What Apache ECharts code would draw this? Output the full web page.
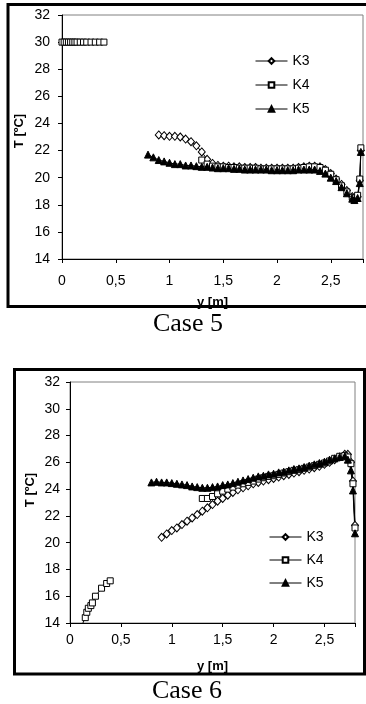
<!DOCTYPE html>
<html>
<head>
<meta charset="utf-8">
<script src="https://cdn.jsdelivr.net/npm/echarts@6/dist/echarts.min.js"></script>
<style>
  html, body { margin: 0; padding: 0; background: #fff; }
  #chart { width: 366px; height: 704px; }
</style>
</head>
<body>
<div id="chart"></div>
<script>
// probe positions y [m] shared by the middle part of all curves
var gridPos = [0.80, 0.85, 0.90, 0.95, 1.00, 1.05, 1.10, 1.15, 1.20, 1.25, 1.30, 1.35, 1.40, 1.45, 1.50,
  1.55, 1.60, 1.65, 1.70, 1.75, 1.80, 1.85, 1.90, 1.95, 2.00, 2.05, 2.10, 2.15, 2.20, 2.25,
  2.30, 2.35, 2.40, 2.45, 2.50, 2.55, 2.60, 2.65, 2.70];

// Case 5
var c5Tail = [2.72, 2.75, 2.77, 2.78];
var c5K3 = [null, null, 23.15, 23.1, 23.05, 23.05, 23.0, 22.85, 22.65, 22.35, 21.9, 21.35, 21.05, 20.9, 20.85,
  20.85, 20.8, 20.8, 20.75, 20.75, 20.75, 20.7, 20.7, 20.7, 20.7, 20.7, 20.7, 20.7, 20.75, 20.8,
  20.85, 20.85, 20.8, 20.6, 20.3, 19.9, 19.5, 19.05, 18.6];
var c5K3T = [18.45, 18.6, 19.8, 22.0];
var c5K4 = [null, null, null, null, null, null, null, null, null, null, 21.3, 21.0, 20.85, 20.8, 20.8,
  20.75, 20.75, 20.7, 20.7, 20.7, 20.7, 20.65, 20.65, 20.65, 20.65, 20.65, 20.65, 20.65, 20.7, 20.75,
  20.8, 20.8, 20.75, 20.55, 20.25, 19.85, 19.4, 18.95, 18.55];
var c5K4T = [18.5, 18.7, 19.9, 22.2];
var c5K4LowPos = [0.00, 0.02, 0.04, 0.06, 0.08, 0.10, 0.12, 0.14, 0.17, 0.20, 0.23, 0.27, 0.31, 0.35, 0.39];
var c5K4Low = [30.0, 30.0, 30.0, 30.0, 30.0, 30.0, 30.0, 30.0, 30.0, 30.0, 30.0, 30.0, 30.0, 30.0, 30.0];
var c5K5 = [21.7, 21.5, 21.3, 21.2, 21.1, 21.0, 21.0, 20.9, 20.9, 20.85, 20.8, 20.8, 20.75, 20.7, 20.7,
  20.7, 20.65, 20.65, 20.6, 20.6, 20.6, 20.6, 20.6, 20.55, 20.55, 20.55, 20.55, 20.55, 20.6, 20.6,
  20.6, 20.6, 20.5, 20.3, 20.0, 19.75, 19.3, 18.85, 18.45];
var c5K5T = [18.35, 18.5, 19.6, 21.9];

// Case 6
var c6Tail = [2.73, 2.76, 2.78, 2.80];
var c6K3 = [null, null, 20.4, 20.65, 20.9, 21.1, 21.35, 21.6, 21.85, 22.1, 22.35, 22.6, 22.85, 23.1, 23.3,
  23.55, 23.75, 23.95, 24.1, 24.25, 24.4, 24.5, 24.6, 24.7, 24.8, 24.9, 25.0, 25.1, 25.2, 25.3,
  25.4, 25.5, 25.6, 25.7, 25.85, 26.0, 26.2, 26.4, 26.6];
var c6K3T = [26.6, 26.0, 24.6, 21.3];
var c6K4 = [null, null, null, null, null, null, null, null, null, null, 23.3, 23.3, 23.45, 23.65, 23.85,
  24.0, 24.15, 24.3, 24.4, 24.5, 24.6, 24.75, 24.85, 24.95, 25.0, 25.1, 25.2, 25.3, 25.4, 25.45,
  25.55, 25.65, 25.75, 25.85, 25.95, 26.1, 26.3, 26.45, 26.5];
var c6K4T = [26.4, 25.9, 24.4, 21.1];
var c6K4LowPos = [0.11, 0.15, 0.165, 0.18, 0.205, 0.22, 0.25, 0.31, 0.36, 0.395];
var c6K4Low = [13.7, 14.4, 14.8, 15.1, 15.3, 15.5, 16.0, 16.6, 16.95, 17.15];
var c6K5 = [24.5, 24.55, 24.5, 24.5, 24.45, 24.4, 24.35, 24.3, 24.2, 24.15, 24.1, 24.1, 24.15, 24.2, 24.3,
  24.35, 24.45, 24.55, 24.65, 24.75, 24.85, 24.95, 25.0, 25.1, 25.15, 25.25, 25.3, 25.4, 25.5, 25.55,
  25.65, 25.75, 25.85, 25.95, 26.05, 26.2, 26.3, 26.4, 26.45];
var c6K5T = [26.2, 25.4, 23.9, 20.7];

var xTicks = [0, 0.5, 1, 1.5, 2, 2.5];
var yMin = 14, yMax = 32, yStep = 2;

function pairs(xs, vs) {
  var out = [];
  for (var i = 0; i < xs.length; i++) {
    if (vs[i] != null) out.push([xs[i], vs[i]]);
  }
  return out;
}

var font = '"Liberation Sans", Arial, sans-serif';
var styles = {
  K3: { symbol: 'diamond', symbolSize: [7, 8], itemStyle: { color: '#fff', borderColor: '#000', borderWidth: 1 } },
  K4: { symbol: 'rect', symbolSize: 6, itemStyle: { color: '#fff', borderColor: '#000', borderWidth: 1 } },
  K5: { symbol: 'triangle', symbolSize: 7, itemStyle: { color: '#000', borderColor: '#000', borderWidth: 1 } }
};

function line(name, idx, data) {
  var s = styles[name];
  return {
    name: name, type: 'line', xAxisIndex: idx, yAxisIndex: idx, data: data,
    symbol: s.symbol, symbolSize: s.symbolSize, itemStyle: s.itemStyle,
    lineStyle: { color: '#000', width: 1 }, clip: true, silent: true
  };
}

function xAxis(idx, labelMargin) {
  return {
    type: 'value', gridIndex: idx, min: 0, max: 2.8, interval: 0.5,
    name: 'y [m]', nameLocation: 'middle', nameGap: 37,
    nameTextStyle: { fontFamily: font, fontWeight: 'bold', fontSize: 13, color: '#000' },
    axisLine: { show: true, onZero: false, lineStyle: { color: '#000', width: 1 } },
    axisTick: { show: true, length: 4, lineStyle: { color: '#000' } },
    splitLine: { show: false },
    axisLabel: {
      margin: labelMargin, fontFamily: font, fontSize: 14, color: '#000',
      formatter: function (v) {
        for (var i = 0; i < xTicks.length; i++) {
          if (Math.abs(v - xTicks[i]) < 1e-6) return String(xTicks[i]).replace('.', ',');
        }
        return '';
      }
    }
  };
}

function yAxis(idx, labelMargin) {
  return {
    type: 'value', gridIndex: idx, min: yMin, max: yMax, interval: yStep,
    axisLine: { show: true, onZero: false, lineStyle: { color: '#000', width: 1 } },
    axisTick: { show: true, length: 4, lineStyle: { color: '#000' } },
    splitLine: { show: false },
    axisLabel: { margin: labelMargin, fontFamily: font, fontSize: 14, color: '#000' }
  };
}

function legend(left, top, gap) {
  return {
    data: ['K3', 'K4', 'K5'], orient: 'vertical', left: left, top: top, padding: 0,
    itemWidth: 32, itemHeight: 7, itemGap: gap, selectedMode: false,
    lineStyle: { width: 1, color: '#000' },
    textStyle: { fontFamily: font, fontSize: 14, color: '#000', lineHeight: 14 }
  };
}

var chart = echarts.init(document.getElementById('chart'));
chart.setOption({
  animation: false,
  backgroundColor: '#fff',
  grid: [
    { left: 62, top: 15, width: 302, height: 244, show: true, borderColor: '#808080', borderWidth: 1 },
    { left: 70, top: 382, width: 285, height: 241, show: true, borderColor: '#808080', borderWidth: 1 }
  ],
  xAxis: [xAxis(0, 15), xAxis(1, 10)],
  yAxis: [yAxis(0, 12), yAxis(1, 10)],
  legend: [legend(255, 54, 10), legend(269, 530, 9)],
  series: [
    line('K3', 0, pairs(gridPos.concat(c5Tail), c5K3.concat(c5K3T))),
    line('K4', 0, pairs(c5K4LowPos, c5K4Low)),
    line('K4', 0, pairs(gridPos.concat(c5Tail), c5K4.concat(c5K4T))),
    line('K5', 0, pairs(gridPos.concat(c5Tail), c5K5.concat(c5K5T))),
    line('K3', 1, pairs(gridPos.concat(c6Tail), c6K3.concat(c6K3T))),
    line('K4', 1, pairs(c6K4LowPos, c6K4Low)),
    line('K4', 1, pairs(gridPos.concat(c6Tail), c6K4.concat(c6K4T))),
    line('K5', 1, pairs(gridPos.concat(c6Tail), c6K5.concat(c6K5T)))
  ],
  graphic: [
    { type: 'text', x: 19, y: 131, rotation: Math.PI / 2,
      style: { text: 'T [ºC]', font: 'bold 13px ' + font, fill: '#000', align: 'center', verticalAlign: 'middle' } },
    { type: 'text', x: 30, y: 490, rotation: Math.PI / 2,
      style: { text: 'T [ºC]', font: 'bold 13px ' + font, fill: '#000', align: 'center', verticalAlign: 'middle' } },
    { type: 'rect', z: 100, shape: { x: 8, y: 4.5, width: 372, height: 302 },
      style: { fill: 'none', stroke: '#000', lineWidth: 3 } },
    { type: 'rect', z: 100, shape: { x: 14.5, y: 369.5, width: 350, height: 304.5 },
      style: { fill: 'none', stroke: '#000', lineWidth: 3 } },
    { type: 'text', x: 188, y: 324,
      style: { text: 'Case 5', font: '26px "Liberation Serif", "Times New Roman", serif', fill: '#000', align: 'center', verticalAlign: 'middle' } },
    { type: 'text', x: 187, y: 691,
      style: { text: 'Case 6', font: '26px "Liberation Serif", "Times New Roman", serif', fill: '#000', align: 'center', verticalAlign: 'middle' } }
  ]
});
</script>
</body>
</html>
